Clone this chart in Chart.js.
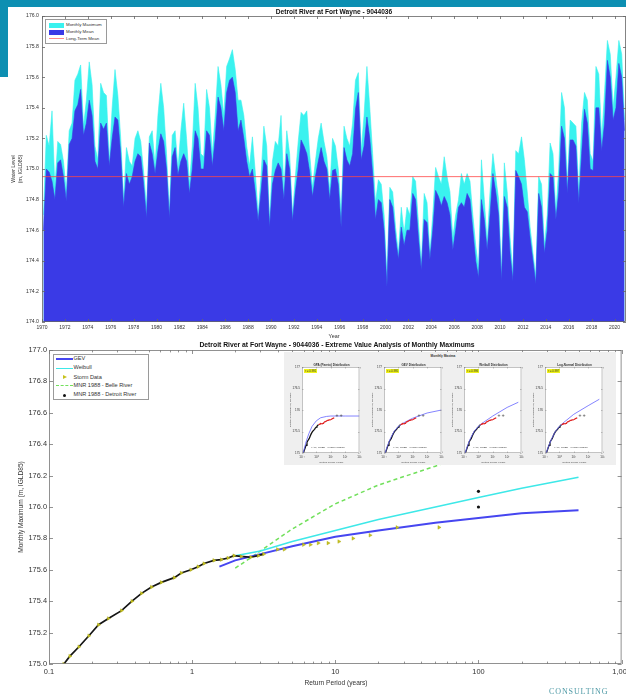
<!DOCTYPE html>
<html>
<head>
<meta charset="utf-8">
<script src="https://cdn.jsdelivr.net/npm/chart.js@4.4.1/dist/chart.umd.min.js"></script>
<style>
  html, body { margin: 0; padding: 0; background: #fff; }
  #page { position: relative; width: 626px; height: 696px; overflow: hidden; background: #fff;
          font-family: 'Liberation Sans', Arial, Helvetica, sans-serif; color: #222; }
  canvas { position: absolute; }
  .t { position: absolute; white-space: nowrap; line-height: 1; }
  .c { transform: translate(-50%, -50%); }
  .r { transform: translate(-50%, -50%) rotate(-90deg); text-align: center; }
  .box { position: absolute; background: #fff; border: 0.6px solid #9a9a9a; }
  .sw { position: absolute; }
</style>
</head>
<body>
<div id="page">
  <div style="position:absolute;left:0;top:0;width:626px;height:7px;background:#0d8fb2"></div>
  <div style="position:absolute;left:0;top:0;width:8px;height:77px;background:#0d8fb2"></div>

  <canvas id="levels" width="626" height="340" style="left:0;top:0"></canvas>
  <canvas id="extremes" width="626" height="356" style="left:0;top:340px"></canvas>

  <!-- water level panel text -->
  <div class="t c" style="left:334px;top:12px;font-size:6.6px;font-weight:bold;color:#111">Detroit River at Fort Wayne - 9044036</div>
  <div class="t c" style="left:334px;top:337px;font-size:5.4px;color:#333">Year</div>
  <div class="t r" style="left:17px;top:169px;font-size:5.2px;color:#333;line-height:1.35">Water Level<br>(m, IGLD85)</div>

  <div class="box" style="left:45px;top:19px;width:60px;height:23px">
    <div class="sw" style="left:3px;top:3px;width:15px;height:5px;background:#3af2ef"></div>
    <div class="t" style="left:20px;top:3.2px;font-size:4.4px;color:#333">Monthly Maximum</div>
    <div class="sw" style="left:3px;top:9.7px;width:15px;height:5px;background:#3a3ae6"></div>
    <div class="t" style="left:20px;top:10px;font-size:4.4px;color:#333">Monthly Mean</div>
    <div class="sw" style="left:3px;top:18.4px;width:15px;height:0;border-top:0.6px solid #ff8a8a"></div>
    <div class="t" style="left:20px;top:16.6px;font-size:4.4px;color:#333">Long-Term Mean</div>
  </div>

  <!-- extreme value panel text -->
  <div class="t c" style="left:337px;top:345px;font-size:6.8px;font-weight:bold;color:#111">Detroit River at Fort Wayne - 9044036 - Extreme Value Analysis of Monthly Maximums</div>
  <div class="t r" style="left:21px;top:507px;font-size:6.6px;color:#333">Monthly Maximum (m, IGLD85)</div>
  <div class="t c" style="left:336px;top:683px;font-size:6.6px;color:#333">Return Period (years)</div>

  <div class="box" style="left:53px;top:354px;width:94px;height:44px">
    <div class="sw" style="left:2px;top:3.3px;width:17px;height:0;border-top:2px solid #4646f0"></div>
    <div class="t" style="left:19.5px;top:1.4px;font-size:5.6px;color:#333">GEV</div>
    <div class="sw" style="left:2px;top:12.6px;width:17px;height:0;border-top:1.4px solid #3ee8e8"></div>
    <div class="t" style="left:19.5px;top:10.3px;font-size:5.6px;color:#333">Weibull</div>
    <div class="sw" style="left:9px;top:19.9px;width:0;height:0;border-top:2.4px solid transparent;border-bottom:2.4px solid transparent;border-left:4px solid #c7c21e"></div>
    <div class="t" style="left:19.5px;top:19.7px;font-size:5.6px;color:#333">Storm Data</div>
    <div class="sw" style="left:2px;top:30.4px;width:17px;height:0;border-top:1.4px dashed #72e05c"></div>
    <div class="t" style="left:19.5px;top:28px;font-size:5.6px;color:#333">MNR 1988 - Belle River</div>
    <div class="sw" style="left:9.2px;top:38.6px;width:3px;height:3px;border-radius:50%;background:#111"></div>
    <div class="t" style="left:19.5px;top:37px;font-size:5.6px;color:#333">MNR 1988 - Detroit River</div>
  </div>

  <!-- distribution fit panels -->
  <div style="position:absolute;left:284px;top:352px;width:332px;height:113px;background:#efefef"></div>
  <canvas id="fit0" width="76" height="105" style="left:288px;top:360px"></canvas>
  <canvas id="fit1" width="76" height="105" style="left:370px;top:360px"></canvas>
  <canvas id="fit2" width="76" height="105" style="left:450px;top:360px"></canvas>
  <canvas id="fit3" width="76" height="105" style="left:531px;top:360px"></canvas>
  <div class="t c" style="left:443px;top:357px;font-size:3.2px;font-weight:bold;color:#333">Monthly Maxima</div>
  <div id="fitText"></div>

  <div class="t" style="left:549px;top:688px;font-size:8px;letter-spacing:0.9px;color:#4f9aa6;font-family:'Liberation Serif','DejaVu Serif',serif">CONSULTING</div>
</div>

<script>
// ---------- Water levels, sampled four times per year ----------
const startYear = 1970;
const samplesPerYear = 4;
const yearTicks = [1970, 1972, 1974, 1976, 1978, 1980, 1982, 1984, 1986, 1988, 1990, 1992, 1994,
                   1996, 1998, 2000, 2002, 2004, 2006, 2008, 2010, 2012, 2014, 2016, 2018, 2020];
const levelTicks = [174.0, 174.2, 174.4, 174.6, 174.8, 175.0, 175.2, 175.4, 175.6, 175.8, 176.0];
const longTermMean = 174.95;

const meanLevel = [
  174.60, 175.00, 174.98, 174.92,  // 1970
  174.80, 175.04, 175.06, 174.95,
  174.79, 175.16, 175.20, 175.38,
  175.42, 175.52, 175.22, 175.30,
  175.45, 175.35, 175.05, 175.00,
  175.30, 175.26, 175.30, 175.02,
  175.20, 175.34, 175.32, 175.10,
  174.75, 174.97, 174.90, 174.95,
  175.05, 175.10, 175.08, 174.90,
  174.68, 175.17, 175.10, 174.97,
  175.12, 175.23, 175.18, 175.00,  // 1980
  174.68, 175.08, 175.14, 174.96,
  175.05, 175.10, 175.05, 174.84,
  175.00, 175.25, 175.20, 175.00,
  175.00, 175.25, 175.22, 175.02,
  175.20, 175.47, 175.40, 175.25,
  175.50, 175.58, 175.60, 175.50,
  175.25, 175.32, 175.20, 175.05,
  174.95, 175.00, 174.85, 174.66,
  174.85, 175.06, 175.02, 174.62,
  174.90, 174.99, 175.04, 175.00,  // 1990
  174.80, 175.10, 175.00, 174.66,
  174.85, 175.00, 175.19, 175.15,
  175.10, 174.98, 174.82, 174.95,
  175.05, 175.14, 175.05, 175.00,
  174.80, 174.99, 175.00, 174.90,
  174.62, 175.14, 175.06, 175.02,
  175.10, 175.39, 175.50, 175.06,
  175.15, 175.34, 175.20, 174.97,
  174.67, 174.80, 174.78, 174.60,
  174.23, 174.80, 174.75, 174.55,  // 2000
  174.41, 174.62, 174.50, 174.60,
  174.60, 174.84, 174.80, 174.55,
  174.34, 174.67, 174.65, 174.41,
  174.60, 174.86, 174.82, 174.76,
  174.82, 174.78, 174.70, 174.47,
  174.60, 174.75, 174.78, 174.75,
  174.84, 174.80, 174.60, 174.40,
  174.29, 174.80, 174.67, 174.47,
  174.70, 174.97, 174.85, 174.70,
  174.27, 174.82, 174.75, 174.45,  // 2010
  174.27, 174.99, 174.95, 174.90,
  174.75, 174.72, 174.55, 174.40,
  174.25, 174.84, 174.75, 174.45,
  174.60, 174.97, 174.95, 174.67,
  174.85, 175.28, 175.20, 174.84,
  175.19, 175.19, 175.15, 174.78,
  175.10, 175.39, 175.30, 175.00,
  174.99, 175.40, 175.40, 175.12,
  175.30, 175.71, 175.60, 175.32,
  175.40, 175.69, 175.60, 175.25   // 2020
];

const maxLevel = [
  174.70, 175.22, 175.15, 175.38,  // 1970
  174.88, 175.18, 175.16, 175.05,
  174.85, 175.25, 175.30, 175.58,
  175.62, 175.68, 175.28, 175.45,
  175.70, 175.55, 175.15, 175.06,
  175.56, 175.50, 175.48, 175.05,
  175.40, 175.65, 175.48, 175.20,
  174.80, 175.14, 175.05, 175.02,
  175.20, 175.25, 175.18, 174.98,
  174.75, 175.21, 175.25, 175.02,
  175.35, 175.56, 175.40, 175.10,  // 1980
  174.72, 175.22, 175.25, 175.00,
  175.25, 175.43, 175.20, 174.90,
  175.15, 175.56, 175.40, 175.10,
  175.08, 175.52, 175.40, 175.10,
  175.35, 175.67, 175.55, 175.35,
  175.67, 175.72, 175.78, 175.65,
  175.45, 175.45, 175.35, 175.15,
  175.02, 175.21, 174.98, 174.70,
  174.95, 175.28, 175.15, 174.66,
  175.05, 175.18, 175.15, 175.35,  // 1990
  174.86, 175.25, 175.10, 174.70,
  174.95, 175.18, 175.37, 175.35,
  175.38, 175.10, 174.88, 175.05,
  175.20, 175.30, 175.18, 175.08,
  174.86, 175.20, 175.15, 175.00,
  174.70, 175.28, 175.20, 175.15,
  175.30, 175.58, 175.63, 175.12,
  175.35, 175.67, 175.40, 175.10,
  174.78, 174.93, 174.90, 174.70,
  174.30, 174.88, 174.85, 174.62,  // 2000
  174.45, 174.75, 174.58, 174.75,
  174.70, 174.95, 174.92, 174.65,
  174.38, 174.84, 174.78, 174.45,
  174.70, 175.01, 174.95, 174.90,
  175.08, 174.95, 174.85, 174.55,
  174.70, 174.80, 174.97, 174.90,
  174.97, 174.92, 174.70, 174.50,
  174.35, 175.06, 174.80, 174.52,
  174.85, 175.10, 174.95, 174.80,
  174.32, 175.04, 174.85, 174.55,  // 2010
  174.32, 175.12, 175.10, 175.21,
  175.06, 174.85, 174.62, 174.45,
  174.30, 174.95, 174.90, 174.50,
  174.70, 175.17, 175.10, 174.72,
  175.00, 175.50, 175.40, 174.90,
  175.32, 175.30, 175.28, 174.85,
  175.30, 175.50, 175.45, 175.10,
  175.05, 175.67, 175.62, 175.20,
  175.50, 175.84, 175.75, 175.40,
  175.60, 175.84, 175.75, 175.32   // 2020
];

// ---------- Extreme value analysis ----------
const periodTicks = [0.1, 1, 10, 100, 1000];
const periodTickLabels = ['0.1', '1', '10', '100', '1,000'];
const maxLevelTicks = [175.0, 175.2, 175.4, 175.6, 175.8, 176.0, 176.2, 176.4, 176.6, 176.8, 177.0];

// ranked monthly maxima (return period in years, level in m)
const stormPeriod = [0.127, 0.14, 0.162, 0.19, 0.222, 0.26, 0.321, 0.38, 0.443, 0.52, 0.609, 0.75,
                     0.84, 0.98, 1.1, 1.21, 1.42, 1.6, 1.78, 1.96, 2.2, 2.57, 2.9, 3.16,
                     3.95, 4.4, 6.0, 6.7, 7.6, 8.9, 10.6, 13.3, 17.5, 27, 53];
const stormLevel  = [175.00, 175.05, 175.11, 175.18, 175.25, 175.29, 175.34, 175.40, 175.45, 175.49, 175.52, 175.55,
                     175.58, 175.60, 175.62, 175.64, 175.66, 175.665, 175.675, 175.69, 175.685, 175.68, 175.69, 175.70,
                     175.73, 175.73, 175.76, 175.76, 175.77, 175.77, 175.78, 175.80, 175.82, 175.87, 175.87];
const denseCount = 24;

const gevPeriod = [1.55, 2, 3, 5, 10, 20, 50, 100, 200, 500];
const gevLevel  = [175.62, 175.66, 175.70, 175.75, 175.81, 175.85, 175.90, 175.93, 175.96, 175.98];
const weibullPeriod = [2, 3, 5, 10, 20, 50, 100, 200, 500];
const weibullLevel  = [175.69, 175.72, 175.78, 175.85, 175.92, 176.00, 176.06, 176.12, 176.19];
const belleRiverPeriod = [2, 3, 5, 10, 20, 50, 100];
const belleRiverLevel  = [175.61, 175.72, 175.86, 176.02, 176.14, 176.26, 176.36];
const detroitRiverPeriod = [100, 100];
const detroitRiverLevel  = [176.10, 176.00];

// fitted distributions shown in the small panels
const fitNames = ['GPA (Pareto) Distribution', 'GEV Distribution', 'Weibull Distribution', 'Log-Normal Distribution'];
const fitScores = ['r = 0.991', 'r = 0.995', 'r = 0.996', 'r = 0.997'];
const fitRmse = ['0.021', '0.015', '0.013', '0.012'];
const fitPeriod = [
  [0.12, 0.2, 0.3, 0.5, 1, 2, 5, 10, 100, 1000],
  [0.12, 0.2, 0.3, 0.5, 1, 2, 10, 100, 1000],
  [0.12, 0.2, 0.3, 0.5, 1, 2, 10, 100, 600],
  [0.12, 0.2, 0.3, 0.5, 1, 2, 10, 100, 600]
];
const fitLevel = [
  [175.00, 175.28, 175.45, 175.62, 175.75, 175.82, 175.85, 175.86, 175.86, 175.86],
  [175.00, 175.22, 175.36, 175.50, 175.62, 175.69, 175.81, 175.93, 176.00],
  [175.00, 175.22, 175.36, 175.50, 175.62, 175.70, 175.86, 176.06, 176.18],
  [175.00, 175.20, 175.34, 175.49, 175.62, 175.71, 175.90, 176.10, 176.25]
];
const fitLevelTicks = [175, 175.5, 176, 176.5, 177];
const fitPeriodLabels = ['10\u207B\u00B9', '10\u2070', '10\u00B9', '10\u00B2', '10\u00B3'];

// ---------- helpers ----------
Chart.defaults.font.family = "'Liberation Sans', Arial, Helvetica, sans-serif";
Chart.defaults.color = '#333';

const pts = (xs, ys) => xs.map((x, i) => ({ x, y: ys[i] }));

// white plot box, frame and inward tick marks
const boxAxes = {
  id: 'boxAxes',
  beforeDraw(chart) {
    const a = chart.chartArea, c = chart.ctx;
    c.save(); c.fillStyle = '#fff';
    c.fillRect(a.left, a.top, a.right - a.left, a.bottom - a.top);
    c.restore();
  },
  afterDraw(chart, args, o) {
    const { ctx, chartArea: a, scales: { x, y } } = chart;
    ctx.save();
    ctx.strokeStyle = o.color || '#555';
    ctx.lineWidth = o.width || 1;
    ctx.strokeRect(a.left + 0.5, a.top + 0.5, a.right - a.left - 1, a.bottom - a.top - 1);
    const L = o.len || 3;
    ctx.beginPath();
    const vtick = (v, len) => {
      const px = Math.round(x.getPixelForValue(v)) + 0.5;
      ctx.moveTo(px, a.bottom); ctx.lineTo(px, a.bottom - len);
      ctx.moveTo(px, a.top); ctx.lineTo(px, a.top + len);
    };
    x.ticks.forEach(t => vtick(t.value, L));
    if (o.minor) {
      for (let d = x.min; d < x.max; d *= 10) {
        for (let k = 2; k < 10; k++) vtick(k * d, L * 0.6);
      }
    }
    y.ticks.forEach(t => {
      const py = Math.round(y.getPixelForValue(t.value)) + 0.5;
      ctx.moveTo(a.left, py); ctx.lineTo(a.left + L, py);
      ctx.moveTo(a.right, py); ctx.lineTo(a.right - L, py);
    });
    ctx.stroke();
    ctx.restore();
  }
};

const fixX = (h, list) => ({
  afterBuildTicks: s => { s.ticks = list.map(v => ({ value: v })); },
  afterFit: s => { s.height = h; s.paddingLeft = 0; s.paddingRight = 0; }
});
const fixY = (w, list) => ({
  afterBuildTicks: s => { s.ticks = list.map(v => ({ value: v })); },
  afterFit: s => { s.width = w; s.paddingTop = 0; s.paddingBottom = 0; }
});
const noGrid = { display: false, drawTicks: false };

const baseOptions = {
  responsive: false,
  animation: false,
  events: [],
  plugins: { legend: { display: false }, tooltip: { enabled: false } }
};

// ---------- water level chart ----------
const BLUE = '#3a3ae6', CYAN = '#3af2ef';
const quarterX = i => startYear + (i + 0.5) / samplesPerYear;

new Chart(document.getElementById('levels'), {
  type: 'line',
  data: {
    datasets: [
      { label: 'Long-Term Mean', data: [{ x: 1970, y: longTermMean }, { x: 2021, y: longTermMean }],
        borderColor: '#ff4646', borderWidth: 0.8, pointRadius: 0, fill: false },
      { label: 'Monthly Mean', data: meanLevel.map((v, i) => ({ x: quarterX(i), y: v })),
        borderColor: BLUE, backgroundColor: BLUE, borderWidth: 0.6, pointRadius: 0, fill: 'start', tension: 0 },
      { label: 'Monthly Maximum', data: maxLevel.map((v, i) => ({ x: quarterX(i), y: v })),
        borderColor: CYAN, backgroundColor: CYAN, borderWidth: 0.6, pointRadius: 0, fill: 'start', tension: 0 }
    ]
  },
  options: {
    ...baseOptions,
    layout: { padding: { top: 16, left: 0, right: 0, bottom: 0 } },
    plugins: { ...baseOptions.plugins, boxAxes: { color: '#666', len: 3, width: 0.8 } },
    scales: {
      x: { type: 'linear', min: 1970, max: 2021, grid: noGrid, border: { display: false },
           ticks: { font: { size: 5 }, padding: 3, maxRotation: 0, autoSkip: false, callback: v => String(v) },
           ...fixX(18, yearTicks) },
      y: { type: 'linear', min: 174, max: 176, grid: noGrid, border: { display: false },
           ticks: { font: { size: 5.2 }, padding: 3, autoSkip: false, callback: v => v.toFixed(1) },
           ...fixY(42, levelTicks) }
    }
  },
  plugins: [boxAxes]
});

// ---------- return period chart ----------
new Chart(document.getElementById('extremes'), {
  type: 'line',
  data: {
    datasets: [
      { label: 'MNR 1988 - Detroit River', data: pts(detroitRiverPeriod, detroitRiverLevel), showLine: false,
        pointStyle: 'circle', pointRadius: 1.6, backgroundColor: '#111', borderColor: '#111', borderWidth: 0 },
      { label: 'Storm Data', data: pts(stormPeriod, stormLevel), showLine: false,
        pointStyle: 'triangle', rotation: 90, pointRadius: 2.1, backgroundColor: '#c7c21e',
        borderColor: '#a9a612', borderWidth: 0.4 },
      { label: 'ranked', data: pts(stormPeriod.slice(0, denseCount), stormLevel.slice(0, denseCount)),
        borderColor: '#151515', borderWidth: 1.7, pointRadius: 0, fill: false },
      { label: 'GEV', data: pts(gevPeriod, gevLevel), borderColor: '#4646f0', borderWidth: 2, pointRadius: 0, fill: false },
      { label: 'Weibull', data: pts(weibullPeriod, weibullLevel), borderColor: '#3ee8e8', borderWidth: 1.6, pointRadius: 0, fill: false },
      { label: 'MNR 1988 - Belle River', data: pts(belleRiverPeriod, belleRiverLevel), borderColor: '#72e05c',
        borderWidth: 1.5, borderDash: [4, 3], pointRadius: 0, fill: false }
    ]
  },
  options: {
    ...baseOptions,
    layout: { padding: { top: 10, left: 0, right: 2, bottom: 0 } },
    plugins: { ...baseOptions.plugins, boxAxes: { color: '#777', len: 4, width: 0.8, minor: true } },
    scales: {
      x: { type: 'logarithmic', min: 0.1, max: 1000, grid: noGrid, border: { display: false },
           ticks: { font: { size: 7.4 }, padding: 4, maxRotation: 0, autoSkip: false,
                    callback: (v, i) => periodTickLabels[i] },
           ...fixX(32, periodTicks) },
      y: { type: 'linear', min: 175, max: 177, grid: noGrid, border: { display: false },
           ticks: { font: { size: 7.4 }, padding: 2, autoSkip: false, callback: v => v.toFixed(1) },
           ...fixY(49, maxLevelTicks) }
    }
  },
  plugins: [boxAxes]
});

// ---------- distribution fit panels ----------
const fitAxesLeft = [302, 384, 464, 545];
const textHost = document.getElementById('fitText');
function addText(html, style) {
  const d = document.createElement('div');
  d.className = 't';
  d.setAttribute('style', style);
  d.innerHTML = html;
  textHost.appendChild(d);
}

fitNames.forEach((name, k) => {
  new Chart(document.getElementById('fit' + k), {
    type: 'line',
    data: {
      datasets: [
        { label: 'top', data: pts(stormPeriod.slice(denseCount + 9), stormLevel.slice(denseCount + 9)), showLine: false,
          pointStyle: 'cross', pointRadius: 1.3, borderColor: '#444', borderWidth: 0.5 },
        { label: 'upper', data: pts(stormPeriod.slice(16, denseCount + 9), stormLevel.slice(16, denseCount + 9)),
          borderColor: '#e02424', borderWidth: 1.2, pointRadius: 0, fill: false },
        { label: 'fit', data: pts(fitPeriod[k], fitLevel[k]), borderColor: '#6464ff', borderWidth: 0.8, pointRadius: 0, fill: false },
        { label: 'lower', data: pts(stormPeriod.slice(0, 17), stormLevel.slice(0, 17)),
          borderColor: '#111', borderWidth: 1.3, pointRadius: 0, fill: false }
      ]
    },
    options: {
      ...baseOptions,
      layout: { padding: { top: 7, left: 0, right: 3, bottom: 0 } },
      plugins: { ...baseOptions.plugins, boxAxes: { color: '#888', len: 1.5, width: 0.5 } },
      scales: {
        x: { type: 'logarithmic', min: 0.1, max: 1000, grid: noGrid, border: { display: false },
             ticks: { font: { size: 3 }, padding: 2, maxRotation: 0, autoSkip: false,
                      callback: (v, i) => fitPeriodLabels[i] },
             ...fixX(12, periodTicks) },
        y: { type: 'linear', min: 175, max: 177, grid: noGrid, border: { display: false },
             ticks: { font: { size: 3 }, padding: 2, autoSkip: false, callback: v => String(v) },
             ...fixY(14, fitLevelTicks) }
      }
    },
    plugins: [boxAxes]
  });

  const L = fitAxesLeft[k];
  addText(name, `left:${L + 29.5}px;top:364.5px;font-size:3px;font-weight:bold;color:#333;transform:translate(-50%,-50%)`);
  addText(fitScores[k], `left:${L + 2}px;top:369px;font-size:2.8px;color:#222;background:#eef21a;padding:0.6px 1px`);
  addText(`&bull; ALL, RMSE = ${fitRmse[k]}m IGLD85`, `left:${L + 9}px;top:447px;font-size:2.4px;color:#333`);
  addText('Monthly Maximum (m, IGLD85)', `left:${L - 11}px;top:410px;font-size:2.5px;color:#444;transform:translate(-50%,-50%) rotate(-90deg)`);
  addText('Return Period (years)', `left:${L + 29.5}px;top:462.5px;font-size:2.5px;color:#444;transform:translate(-50%,-50%)`);
});
</script>
</body>
</html>
